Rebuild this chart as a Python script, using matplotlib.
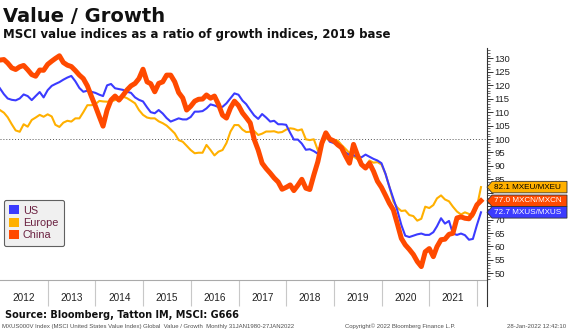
import matplotlib
matplotlib.use('Agg')
import matplotlib.pyplot as plt
import matplotlib.dates as mdates
import pandas as pd
from matplotlib.patches import Polygon, Patch
from matplotlib.lines import Line2D

plt.rcParams['font.family'] = ['Liberation Sans', 'DejaVu Sans']

# ---------------- data (monthly, month-end, Dec 2011 .. Jan 2022) ----------------
us = [118.9, 116.7, 115.1, 114.6, 114.4, 115.1, 116.6, 116.0, 114.5, 116.0, 117.5, 115.5,
      118.2, 119.8, 120.5, 121.2, 122.1, 122.9, 123.5, 121.5, 119.0, 117.6, 118.0, 117.6,
      117.2, 116.5, 116.0, 120.0, 120.5, 118.9, 118.6, 118.3, 117.6, 117.2, 115.5, 114.6,
      114.0, 111.8, 110.0, 109.6, 110.8, 109.5, 107.8, 106.5, 107.1, 107.7, 107.3, 107.3,
      108.2, 110.2, 110.2, 110.4, 111.4, 112.9, 112.5, 111.9, 112.0, 113.3, 115.2, 117.0,
      116.5, 114.3, 113.0, 110.8, 108.8, 107.5, 109.3, 108.0, 106.5, 106.8, 105.5, 105.5,
      105.3, 102.3, 99.8, 99.8, 98.3, 96.0, 96.2, 95.5, 94.5, 99.0, 101.5, 99.0,
      98.5, 97.6, 96.4, 95.0, 94.0, 94.0, 93.3, 93.2, 94.2, 93.4, 92.6, 92.0,
      91.0, 87.0, 82.3, 77.8, 73.5, 68.0, 64.0, 63.5, 64.0, 64.5, 64.8, 64.3,
      64.3, 65.3, 67.5, 70.5, 68.5, 69.5, 64.8, 64.3, 64.8, 64.2, 62.5, 62.8,
      68.0, 72.7]

europe = [110.8, 109.8, 108.1, 105.5, 103.2, 102.7, 105.5, 104.6, 107.1, 108.0, 109.0, 108.3,
          109.2, 108.4, 105.3, 104.5, 106.1, 106.8, 106.5, 107.7, 107.7, 110.0, 112.6, 112.6,
          113.0, 114.2, 114.0, 113.9, 114.0, 114.5, 115.5, 115.8, 115.2, 114.3, 113.3, 110.8,
          109.0, 108.0, 107.7, 107.7, 106.6, 105.9, 105.0, 103.6, 102.1, 99.6, 99.0, 97.5,
          95.9, 94.7, 94.9, 94.9, 97.8, 95.9, 93.9, 95.3, 95.9, 98.5, 102.8, 105.2,
          105.2, 103.5, 102.6, 102.7, 103.0, 101.5, 102.0, 102.8, 102.8, 102.9, 102.4, 102.6,
          103.5, 104.0, 103.8, 103.2, 103.6, 99.9, 99.6, 99.9, 95.8, 97.8, 100.3, 99.7,
          99.6, 99.4, 97.8, 96.3, 94.8, 93.5, 92.5, 90.8, 89.0, 92.0, 91.2, 91.4,
          90.5, 87.0, 82.3, 76.7, 74.5, 73.2, 73.4, 71.7, 71.3, 69.6, 70.3, 74.8,
          74.3, 75.4, 77.9, 79.0, 77.5, 76.8, 74.8, 73.0, 71.9, 72.7, 72.1, 71.1,
          74.8, 82.1]

china = [129.4, 129.6, 128.3, 126.5, 125.9, 126.9, 127.4, 125.8, 124.0, 123.4, 125.7, 125.6,
         127.8, 129.0, 130.0, 131.0, 128.5, 127.5, 127.0, 125.5, 123.8, 122.5, 119.8, 116.0,
         112.3, 108.3, 104.8, 110.8, 114.5, 116.0, 114.5, 116.3, 118.3, 119.8, 120.7, 122.5,
         126.0, 121.3, 120.6, 117.6, 120.7, 121.3, 123.8, 123.8, 121.3, 117.3, 115.3, 110.8,
         112.2, 114.1, 114.8, 114.9, 116.4, 115.2, 116.0, 112.9, 108.9, 107.8, 111.6, 114.1,
         112.5, 109.7, 108.0, 106.0, 99.9, 95.9, 91.0, 89.0, 87.3, 85.5, 84.0, 81.3,
         82.0, 82.9, 80.8, 82.8, 85.0, 81.7, 81.2, 86.6, 91.6, 98.4, 102.3, 100.0,
         99.3, 97.8, 96.8, 93.7, 91.0, 98.0, 94.0, 90.5, 89.2, 91.0, 88.0, 84.3,
         82.0, 79.0, 76.1, 73.6, 68.5, 63.0, 60.6, 58.9, 57.0, 54.4, 52.5, 58.0,
         59.2, 56.2, 59.9, 62.5, 62.7, 64.5, 64.9, 70.6, 71.0, 70.5, 70.3, 72.3,
         75.5, 77.0]

series_names = ['US', 'Europe', 'China']
series_codes = ['MXUS/MXUS', 'MXEU/MXEU', 'MXCN/MXCN']
year_labels = ['2012', '2013', '2014', '2015', '2016', '2017', '2018', '2019', '2020', '2021']
y_ticks = list(range(50, 131, 5))
hidden_y_labels = [75, 80]   # covered by the value tags in the original

# ---------------- style ----------------
C_US = '#3B3BFF'
C_EU = '#FFB000'
C_CN = '#FF4A00'

W, H = 568, 331
fig = plt.figure(figsize=(W / 100, H / 100), dpi=100)
fig.patch.set_facecolor('white')

AX_L, AX_R, AX_T, AX_B = 0, 487, 48, 280
ax = fig.add_axes([AX_L / W, 1 - AX_B / H, (AX_R - AX_L) / W, (AX_B - AX_T) / H])

dates = pd.date_range('2011-12-31', periods=len(us), freq='ME')

ax.axhline(100, color='#555555', lw=0.7, ls=(0, (1, 2)), zorder=1)
ax.plot(dates, europe, color=C_EU, lw=1.5, zorder=2)
ax.plot(dates, us, color=C_US, lw=1.5, zorder=3)
ax.plot(dates, china, color=C_CN, lw=3.6, zorder=4, solid_joinstyle='round')

ax.set_ylim(47.5, 133.9)
ax.set_xlim(pd.Timestamp('2012-01-01'), pd.Timestamp('2022-03-18'))

# y axis on right
ax.yaxis.tick_right()
ax.set_yticks(y_ticks)
ax.set_yticklabels(['' if t in hidden_y_labels else str(t) for t in y_ticks])
ax.set_yticks(range(48, 134), minor=True)
ax.tick_params(axis='y', which='major', length=4, width=0.7, color='#333333',
               labelsize=6.8, pad=1.5, labelcolor='#222222')
ax.tick_params(axis='y', which='minor', length=2, width=0.5, color='#333333')

# x axis: separators at year starts, labels at mid-year
year_starts = [pd.Timestamp(f'{int(y) + 1}-01-01') for y in year_labels]
mid_years = [pd.Timestamp(f'{y}-07-02') for y in year_labels]
ax.set_xticks(year_starts)
ax.set_xticklabels([''] * len(year_starts))
ax.set_xticks(mid_years, minor=True)
ax.set_xticklabels(year_labels, minor=True)
ax.tick_params(axis='x', which='major', length=18.7, width=0.8, color='#C8C8C8')
ax.tick_params(axis='x', which='minor', length=0, labelsize=7.2, pad=9.5,
               labelcolor='#222222')

for s in ['top', 'left']:
    ax.spines[s].set_visible(False)
ax.spines['right'].set_color('#333333')
ax.spines['right'].set_linewidth(0.8)
ax.spines['bottom'].set_color('#AAAAAA')
ax.spines['bottom'].set_linewidth(0.8)

# extension of the right axis line into the date strip
fig.add_artist(Line2D([AX_R / W, AX_R / W], [1 - AX_B / H, 1 - 306 / H],
                      color='#333333', lw=0.8, transform=fig.transFigure))

# legend
handles = [Patch(facecolor=c, edgecolor='none') for c in (C_US, C_EU, C_CN)]
leg = ax.legend(handles, series_names, loc='upper left',
                bbox_to_anchor=(4 / W, 1 - 200 / H), bbox_transform=fig.transFigure,
                borderaxespad=0, fontsize=7.8, handlelength=0.9, handleheight=0.9,
                handletextpad=0.35, labelspacing=0.2, borderpad=0.5,
                fancybox=True, framealpha=1, labelcolor='#6a2040')
leg.get_frame().set_facecolor('#F0F0F0')
leg.get_frame().set_edgecolor('#606060')
leg.get_frame().set_linewidth(0.8)

# value tags on the right axis
inv = fig.transFigure.inverted()
tags = [(europe[-1], series_codes[1], C_EU, 'black'),
        (china[-1], series_codes[2], C_CN, 'white'),
        (us[-1], series_codes[0], C_US, 'white')]
x0, x1, hh = AX_R, 567, 11.5
for val, code, fc, tc in tags:
    yc = ax.transData.transform((ax.get_xlim()[0], val))[1]
    pts_pix = [(x0, yc), (x0 + 5, yc + hh / 2), (x1, yc + hh / 2),
               (x1, yc - hh / 2), (x0 + 5, yc - hh / 2)]
    pts = [tuple(inv.transform(p)) for p in pts_pix]
    fig.add_artist(Polygon(pts, closed=True, facecolor=fc, edgecolor='#333333',
                           lw=0.6, transform=fig.transFigure, zorder=5))
    fy = inv.transform((0, yc))[1]
    fig.text(494 / W, fy, f'{val:.1f} {code}', color=tc, fontsize=5.9,
             va='center', ha='left', zorder=6)

# titles
fig.text(3 / W, 1 - 22 / H, 'Value / Growth', fontsize=14, fontweight='bold',
         family='DejaVu Sans', va='baseline', color='#111111')
fig.text(3 / W, 1 - 38 / H, 'MSCI value indices as a ratio of growth indices, 2019 base',
         fontsize=8.5, fontweight='bold', family='DejaVu Sans', va='baseline',
         color='#111111')
fig.text(5 / W, 1 - 318 / H, 'Source: Bloomberg, Tatton IM, MSCI: G666', fontsize=7,
         fontweight='bold', family='DejaVu Sans', va='baseline', color='#111111')

# footer
fig.text(2 / W, 1 - 328 / H,
         'MXUS000V Index (MSCI United States Value Index) Global  Value / Growth  '
         'Monthly 31JAN1980-27JAN2022', fontsize=4.3, va='baseline', color='#505050')
fig.text(345 / W, 1 - 328 / H, 'Copyright\u00a9 2022 Bloomberg Finance L.P.',
         fontsize=4.3, va='baseline', color='#505050')
fig.text(566 / W, 1 - 328 / H, '28-Jan-2022 12:42:10', fontsize=4.3, va='baseline',
         ha='right', color='#505050')

fig.savefig('out.png', dpi=100)
